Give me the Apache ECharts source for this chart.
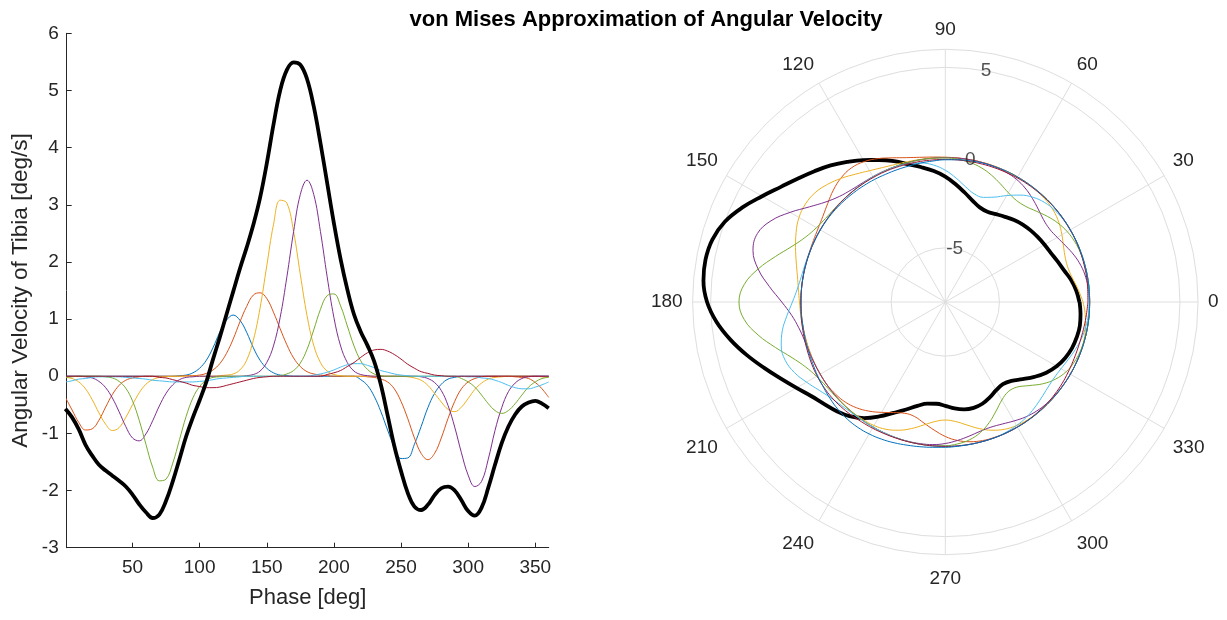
<!DOCTYPE html>
<html><head><meta charset="utf-8">
<script src="https://cdn.jsdelivr.net/npm/echarts@6/dist/echarts.min.js"></script>
<style>html,body{margin:0;padding:0;background:#fff}#c{width:1227px;height:620px}</style>
</head><body><div id="c"></div>
<script>
// Phase grid [deg]
const phase = [0,5,10,15,20,25,30,35,40,45,50,55,60,65,70,75,80,85,90,95,100,105,110,115,120,125,130,135,140,145,150,155,160,165,170,175,180,185,190,195,200,205,210,215,220,225,230,235,240,245,250,255,260,265,270,275,280,285,290,295,300,305,310,315,320,325,330,335,340,345,350,355,360];

// von Mises components
const compBlue = [0,0,0,0,0,0,0,0,0,0, 0,0,0,0,0,0,0,0.01,0.02,0.06, 0.14,0.28,0.5,0.77,0.98,1.07,0.98,0.77,0.5,0.28, 0.14,0.06,0.02,0.01,0,0,0,0,0,0, 0,0,0,0,-0.06,-0.16,-0.35,-0.62,-0.94,-1.24, -1.44,-1.43,-1.19,-0.88,-0.55,-0.3,-0.14,-0.05,-0.02,0, 0,0,0,0,0,0,0,0,0,0, 0,0,0];
const compOrange = [-0.37,-0.59,-0.81,-0.94,-0.92,-0.77,-0.54,-0.32,-0.16,-0.07, -0.03,-0.01,0,0,0,0,0,0,0.01,0.01, 0.02,0.05,0.11,0.22,0.4,0.65,0.95,1.22,1.42,1.46, 1.36,1.12,0.83,0.55,0.32,0.17,0.08,0.04,0.02,0.01, 0,0,0,0,0,-0.01,-0.02,-0.05,-0.1,-0.22, -0.44,-0.74,-1.08,-1.35,-1.46,-1.35,-1.08,-0.74,-0.44,-0.22, -0.1,-0.04,-0.01,0,0,0,0,-0.01,-0.02,-0.04, -0.11,-0.22,-0.37];
const compYellow = [-0.02,-0.04,-0.1,-0.22,-0.41,-0.64,-0.84,-0.95,-0.9,-0.72, -0.5,-0.29,-0.14,-0.06,-0.02,-0.01,0,0,0,0, 0,0,0,0.01,0.02,0.04,0.11,0.28,0.63,1.19, 1.93,2.65,3.08,3.03,2.53,1.78,1.06,0.54,0.24,0.09, 0.03,0.01,0,0,0,0,0,0,0,0, 0,-0.01,-0.03,-0.07,-0.16,-0.3,-0.45,-0.58,-0.62,-0.54, -0.39,-0.23,-0.12,-0.05,-0.02,-0.01,0,0,0,0, 0,-0.01,-0.02];
const compPurple = [0,0,0,-0.01,-0.03,-0.09,-0.2,-0.38,-0.62,-0.88, -1.08,-1.13,-1.01,-0.78,-0.52,-0.3,-0.15,-0.06,-0.02,-0.01, 0,0,0,0,0,0,0,0.01,0.03,0.09, 0.24,0.53,1.03,1.74,2.53,3.18,3.43,3.18,2.53,1.74, 1.03,0.53,0.24,0.09,0.03,0.01,0,0,0,0, 0,0,0,-0.01,-0.04,-0.11,-0.25,-0.51,-0.89,-1.34, -1.73,-1.93,-1.84,-1.45,-0.95,-0.55,-0.27,-0.12,-0.04,-0.01, 0,0,0];
const compGreen = [-0.02,-0.01,0,0,0,0,-0.01,-0.03,-0.09,-0.21, -0.43,-0.77,-1.19,-1.59,-1.83,-1.8,-1.52,-1.11,-0.7,-0.38, -0.18,-0.07,-0.02,-0.01,0,0,0,0,0,0, 0,0,0.01,0.04,0.1,0.23,0.47,0.81,1.17,1.41, 1.44,1.23,0.88,0.53,0.27,0.12,0.04,0.01,0,0, 0,0,0,0,0,0,0,0,0,-0.04, -0.1,-0.19,-0.33,-0.48,-0.6,-0.65,-0.6,-0.48,-0.33,-0.19, -0.1,-0.04,-0.02];
const compCyan = [-0.1,-0.08,-0.05,-0.04,-0.02,-0.01,-0.01,-0.01,-0.01,-0.02, -0.03,-0.04,-0.05,-0.07,-0.08,-0.09,-0.1,-0.1,-0.1,-0.1, -0.09,-0.08,-0.06,-0.04,-0.03,-0.02,-0.01,0,0,0, 0,0,0,0,0,0,0,0.02,0.04,0.07, 0.11,0.16,0.2,0.22,0.22,0.19,0.15,0.1,0.07,0.04, 0.02,0.01,0,0,0,0,0,0,0,0, -0.01,-0.01,-0.03,-0.04,-0.07,-0.11,-0.16,-0.2,-0.22,-0.22, -0.19,-0.15,-0.1];
const compDarkRed = [0,0,0,0,0,0,0,0,0,0, 0,0,0,0,-0.02,-0.03,-0.06,-0.09,-0.12,-0.16, -0.18,-0.2,-0.2,-0.19,-0.16,-0.13,-0.1,-0.07,-0.04,-0.02, -0.01,0,0,0,0,0,0,0,0,0.03, 0.06,0.1,0.17,0.24,0.33,0.41,0.46,0.47,0.44,0.38, 0.3,0.21,0.14,0.08,0.05,0.02,0.01,0,0,0, 0,0,0,0,0,0,0,0,0,0, 0,0,0];

// Total angular velocity (thick black curve)
const total = [-0.57,-0.72,-0.93,-1.2,-1.39,-1.55,-1.65,-1.74,-1.83,-1.93, -2.07,-2.24,-2.38,-2.48,-2.42,-2.18,-1.84,-1.45,-1.05,-0.72, -0.42,-0.1,0.3,0.68,1.08,1.48,1.88,2.25,2.65,3.12, 3.72,4.4,5.0,5.36,5.49,5.45,5.2,4.72,4.08,3.38, 2.68,2.05,1.52,1.08,0.78,0.54,0.26,-0.15,-0.68,-1.22, -1.66,-2.04,-2.28,-2.34,-2.25,-2.08,-1.96,-1.93,-2.0,-2.17, -2.36,-2.44,-2.3,-1.95,-1.55,-1.17,-0.88,-0.67,-0.53,-0.46, -0.43,-0.48,-0.56];

const components = [compBlue, compOrange, compYellow, compPurple, compGreen, compCyan, compDarkRed];
const palette = ['#0072BD','#D95319','#EDB120','#7E2F8E','#77AC30','#4DBEEE','#A2142F'];

const xTicks = [50,100,150,200,250,300,350];
const rTicks = [-5,0,5];
const rLabelAngle = 80;

const FONT = "'Liberation Sans', Arial, Helvetica, sans-serif";
const AX = '#262626';
const GRIDC = '#dedede';

const series = [];
components.forEach((c, i) => {
  series.push({type:'line', xAxisIndex:0, yAxisIndex:0, data: phase.map((p,j)=>[p,c[j]]),
    smooth:0.4, showSymbol:false, symbol:'none', lineStyle:{width:1, color:palette[i]}, itemStyle:{color:palette[i]}, z:2, silent:true});
});
series.push({type:'line', xAxisIndex:0, yAxisIndex:0, data: phase.map((p,j)=>[p,total[j]]),
  smooth:0.4, showSymbol:false, symbol:'none', lineStyle:{width:3.8, color:'#000'}, z:3, silent:true});

// polar: black first, then components (colour order shifted by one)
series.push({type:'line', coordinateSystem:'polar', polarIndex:0, data: phase.map((p,j)=>[total[j],p]),
  smooth:0.4, showSymbol:false, symbol:'none', lineStyle:{width:3.8, color:'#000'}, z:2, silent:true});
components.forEach((c, i) => {
  const col = palette[(i+1)%palette.length];
  series.push({type:'line', coordinateSystem:'polar', polarIndex:0, data: phase.map((p,j)=>[c[j],p]),
    smooth:0.4, showSymbol:false, symbol:'none', lineStyle:{width:1, color:col}, z:3, silent:true});
});
series.push({type:'scatter', coordinateSystem:'polar', polarIndex:0, data: rTicks.map(r=>[r, rLabelAngle]),
  symbolSize:1, itemStyle:{color:'rgba(0,0,0,0)'}, z:5, silent:true,
  label:{show:true, position:'inside', formatter: p => String(p.value[0]), color:AX, fontSize:19, fontFamily:FONT}});

const angLabelStyle = {fontSize:19, color:AX, fontFamily:FONT};
const option = {
  animation:false,
  backgroundColor:'#fff',
  title:{text:'von Mises Approximation of Angular Velocity', left:641, top:4, textAlign:'center',
    textStyle:{fontSize:22, fontWeight:'bold', color:'#000', fontFamily:FONT}},
  grid:{left:66.7, right:678.3, top:33.3, bottom:72.3, containLabel:false},
  xAxis:{type:'value', min:1, max:360, name:'Phase [deg]', nameLocation:'middle', nameGap:39,
    nameTextStyle:{fontSize:22, color:AX, fontFamily:FONT},
    axisLine:{show:true, onZero:false, lineStyle:{color:AX, width:1}},
    axisTick:{show:true, inside:true, length:5, customValues:xTicks, lineStyle:{color:AX}},
    axisLabel:{customValues:xTicks, fontSize:19, color:AX, fontFamily:FONT, margin:11},
    splitLine:{show:false}},
  yAxis:{type:'value', min:-3, max:6, interval:1, name:'Angular Velocity of Tibia [deg/s]', nameLocation:'middle', nameGap:34,
    nameTextStyle:{fontSize:22.5, color:AX, fontFamily:FONT},
    axisLine:{show:true, onZero:false, lineStyle:{color:AX, width:1}},
    axisTick:{show:true, inside:true, length:5, lineStyle:{color:AX}},
    axisLabel:{fontSize:19, color:AX, fontFamily:FONT, margin:8},
    splitLine:{show:false}},
  polar:{center:[945.3, 302], radius:252.7},
  angleAxis:{type:'value', min:0, max:360, interval:30, startAngle:0, clockwise:false,
    axisLine:{show:true, lineStyle:{color:GRIDC, width:1}},
    axisTick:{show:false},
    axisLabel:{show:true, margin:10, color:AX, fontSize:19, fontFamily:FONT,
      formatter: v => (v > 180 && v < 360) ? '{lo|' + v + '}' : '{n|' + v + '}',
      rich:{lo:Object.assign({padding:[5,0,0,0]}, angLabelStyle), n:Object.assign({}, angLabelStyle)}},
    splitLine:{show:true, lineStyle:{color:GRIDC, width:1}}},
  radiusAxis:{type:'value', min:-8, max:6,
    axisLine:{show:false}, axisLabel:{show:false},
    axisTick:{show:false, customValues:rTicks},
    splitLine:{show:true, lineStyle:{color:GRIDC, width:1}}},
  series: series
};
const chart = echarts.init(document.getElementById('c'), null, {renderer:'canvas'});
chart.setOption(option);
</script>
</body></html>
